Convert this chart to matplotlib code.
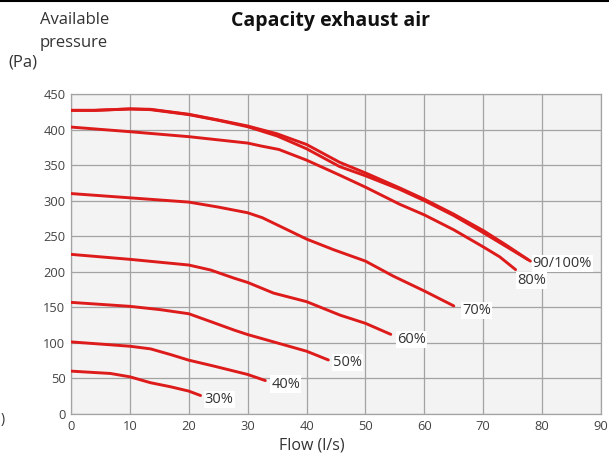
import matplotlib
matplotlib.use("Agg")
import matplotlib.pyplot as plt
from matplotlib.lines import Line2D

plt.rcParams['font.family'] = ['Open Sans', 'DejaVu Sans']

# Curves: flow (l/s), available pressure (Pa)
x100 = [0, 4, 10, 13.5, 20, 25, 30, 35, 40, 45.6, 50, 55.8, 60, 65, 70, 74, 78]
y100 = [427, 427, 429, 428.5, 421.5, 413.5, 405, 394, 379, 354, 339, 318, 302, 281, 258, 237, 215]
x90 = [0, 4, 10, 13.5, 20, 25, 30, 35, 40, 45.6, 50, 55.8, 60, 65, 70, 74, 77.6]
y90 = [427, 427, 429, 428, 421, 413, 404, 391, 373, 348, 335, 316, 300, 279, 255, 235, 217]
x80 = [0, 10, 20, 30, 32.2, 35.3, 40, 45.6, 50, 55.8, 60, 65, 70, 72.8, 75.5]
y80 = [403.5, 397, 390, 381, 377, 372, 357, 336, 319, 295, 280, 259, 235, 221, 203]
x70 = [0, 10, 20, 25, 30, 32.5, 35.5, 40, 44.6, 50, 54.7, 60, 65]
y70 = [310, 304, 298, 291, 283, 276, 264, 246, 231, 215, 194, 173, 152]
x60 = [0, 10, 20, 23.7, 27.7, 30, 34.4, 40, 45.7, 50, 54.3]
y60 = [224.5, 217.5, 209.5, 202.5, 191, 185, 170, 158, 139, 127.5, 112]
x50 = [0, 10, 15.2, 20, 23.7, 27.7, 30, 35, 40, 43.7]
y50 = [157, 151.4, 146.7, 141, 130, 118, 111.7, 100, 88.3, 76]
x40 = [0, 10, 13.5, 16.9, 20, 24.3, 30, 33]
y40 = [101.4, 95.3, 91.6, 83.6, 75.7, 67.3, 55.6, 47]
x30 = [0, 6.7, 10, 13.5, 16.9, 20, 22]
y30 = [60.3, 57, 52.3, 44, 38.3, 32.2, 26]

labels = ['90/100%', '80%', '70%', '60%', '50%', '40%', '30%']
label_pos = [(78.4, 212), (75.7, 188), (66.4, 146), (55.3, 105), (44.5, 72), (34.0, 42), (22.7, 20)]

xticks = list(range(0, 91, 10))
yticks = list(range(0, 451, 50))

red = '#de1b1b'
fig = plt.figure(figsize=(6.09, 4.55), dpi=100)
ax = fig.add_axes([0.1166, 0.0901, 0.8703, 0.7033])
ax.set_facecolor('#f3f3f3')

curves = [(x100, y100), (x90, y90), (x80, y80), (x70, y70), (x60, y60),
          (x50, y50), (x40, y40), (x30, y30)]
for xs, ys in curves:
    ax.plot(xs, ys, color=red, lw=2.1, solid_capstyle='round',
            solid_joinstyle='round', zorder=3)

for lab, (lx, ly) in zip(labels, label_pos):
    ax.text(lx, ly, lab, fontsize=10.5, color='#333333', ha='left', va='center',
            zorder=4, bbox=dict(facecolor='white', edgecolor='none', pad=0.8))

ax.set_xlim(0, 90)
ax.set_ylim(0, 450)
ax.set_xticks(xticks)
ax.set_yticks(yticks)
ax.grid(True, color='#a3a3a3', lw=0.9, zorder=1)
ax.set_axisbelow(True)
for s in ax.spines.values():
    s.set_color('#a3a3a3')
    s.set_linewidth(0.9)
ax.tick_params(length=0, labelsize=9.3, labelcolor='#444444', pad=4)
ax.set_xlabel('Flow (l/s)', fontsize=11.5, color='#333333')
ax.xaxis.set_label_coords(0.455, -0.072)

fig.text(0.542, 0.953, 'Capacity exhaust air', fontsize=14, fontweight='bold',
         ha='center', va='center', color='#111111')
fig.text(0.065, 0.955, 'Available', fontsize=12, ha='left', va='center', color='#333333')
fig.text(0.065, 0.905, 'pressure', fontsize=12, ha='left', va='center', color='#333333')
fig.text(0.013, 0.862, '(Pa)', fontsize=12, ha='left', va='center', color='#333333')
fig.text(0.001, 0.077, ')', fontsize=10, ha='left', va='center', color='#333333')

fig.add_artist(Line2D([0, 1], [0.998, 0.998], color='black', lw=1.5, transform=fig.transFigure))

fig.savefig('out.png', dpi=100)
